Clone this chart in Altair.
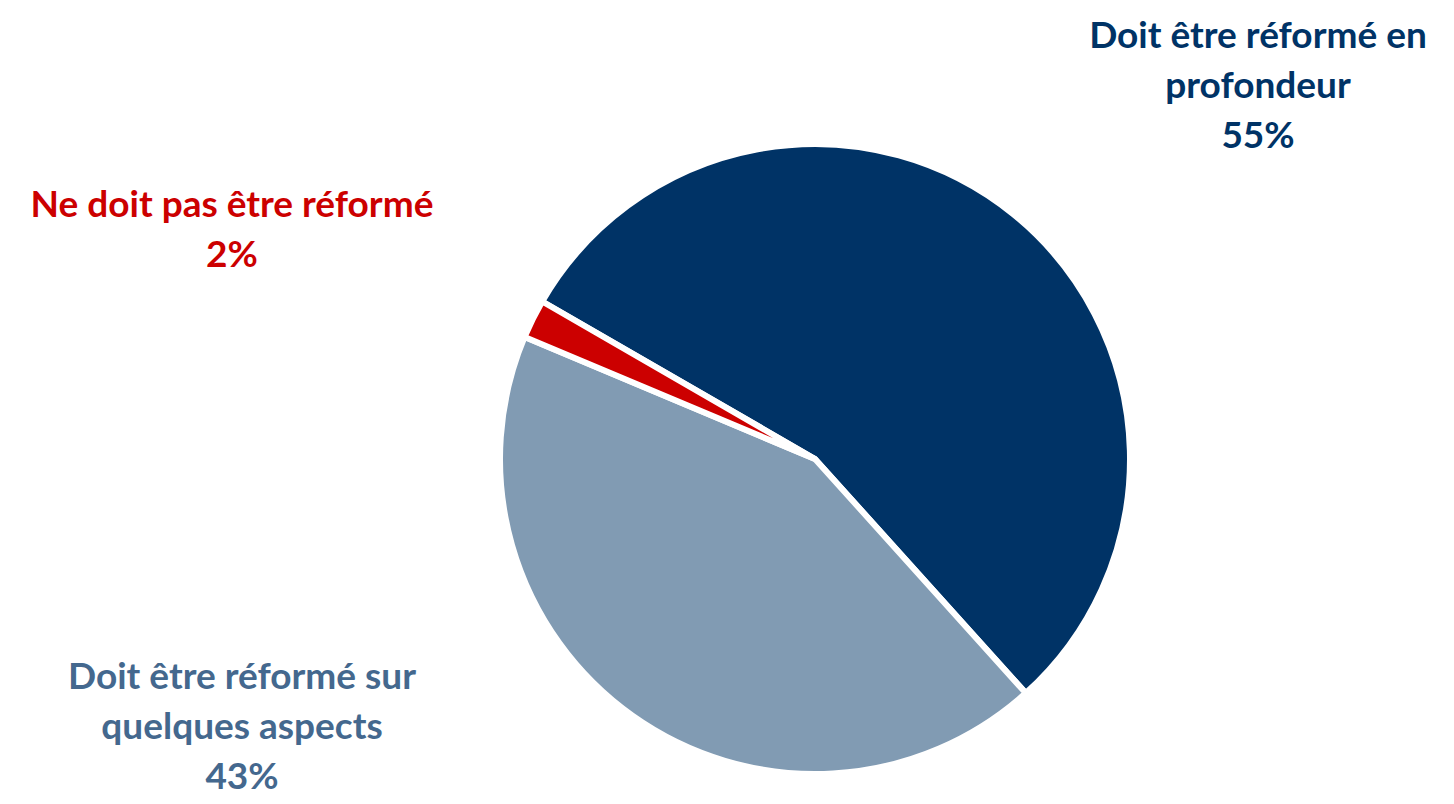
import altair as alt
import pandas as pd
import math

categories = ["Doit être réformé en profondeur", "Doit être réformé sur quelques aspects", "Ne doit pas être réformé"]
values = [55, 43, 2]
label_lines = [
    ["Doit être réformé en", "profondeur", "55%"],
    ["Doit être réformé sur", "quelques aspects", "43%"],
    ["Ne doit pas être réformé", "2%"],
]
slice_colors = ["#003366", "#819BB3", "#CC0000"]
text_colors = ["#003366", "#44688E", "#CC0000"]

df = pd.DataFrame({"cat": categories, "value": values, "order": [0, 1, 2]})

start = 300 / 180 * math.pi

pie = alt.Chart(df).mark_arc(stroke="white", strokeWidth=6).encode(
    theta=alt.Theta("value:Q", stack=True, scale=alt.Scale(range=[start, start + 2 * math.pi])),
    order=alt.Order("order:Q"),
    color=alt.Color("cat:N", scale=alt.Scale(domain=categories, range=slice_colors), legend=None),
    x=alt.value(807),
    y=alt.value(451),
    radius=alt.value(315),
)

label_pos = [(1250, 11), (234, 652), (224, 180)]
layers = [pie]
for i, cat in enumerate(categories):
    lx, ly = label_pos[i]
    t = alt.Chart(pd.DataFrame({"cat": [cat], "txt": [label_lines[i]]})).mark_text(
        font="Lato", fontWeight="bold", fontSize=37, align="center", baseline="top",
        lineHeight=50, color=text_colors[i]
    ).encode(text="txt", x=alt.value(lx), y=alt.value(ly))
    layers.append(t)

chart = alt.layer(*layers).properties(
    width=1438, height=788,
    autosize=alt.AutoSizeParams(type="fit", contains="padding"),
    padding=0,
).configure_view(stroke=None)

chart.save("out.html", embed_options={"renderer": "svg", "actions": False})
